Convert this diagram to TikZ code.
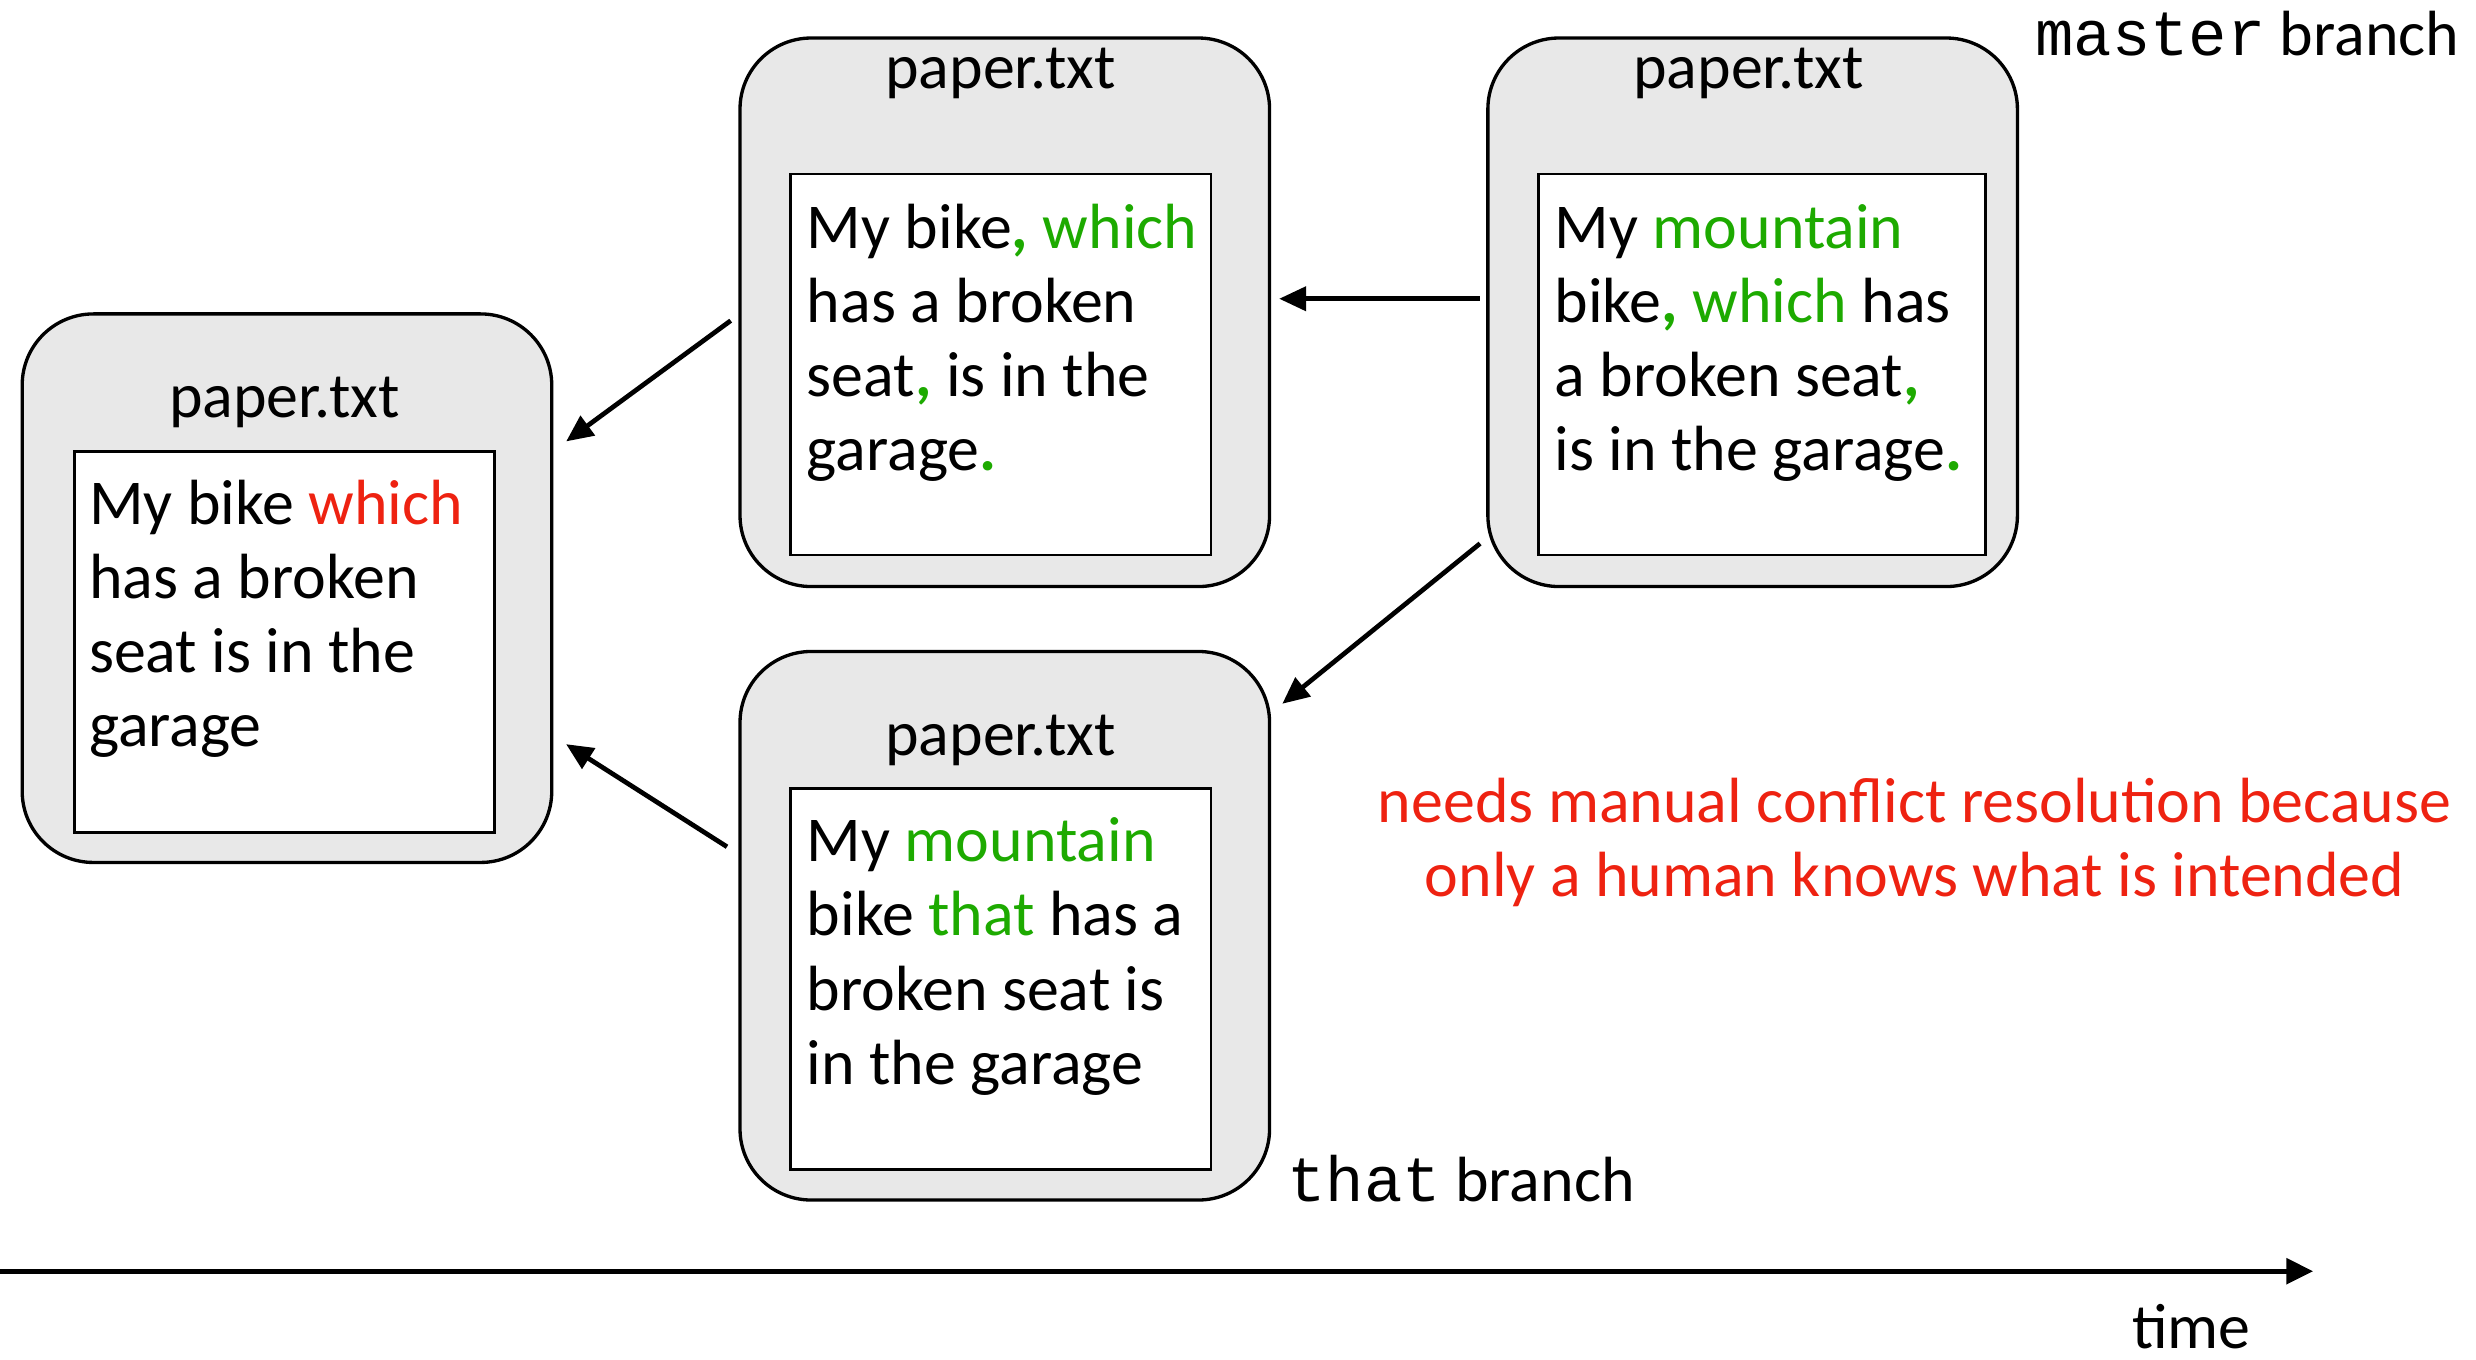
\documentclass[tikz,border=0pt]{standalone}
\usepackage{fontspec}
\setmainfont{Carlito}
\setmonofont{Liberation Mono}
\usetikzlibrary{calc,arrows.meta}
\definecolor{boxgray}{HTML}{E8E8E8}
\definecolor{mygreen}{HTML}{1DAA00}
\definecolor{myred}{HTML}{EE2211}
\newcommand{\G}[1]{\textcolor{mygreen}{#1}}
\newcommand{\GP}[1]{\textcolor{mygreen}{\textbf{#1}}}
\newcommand{\R}[1]{\textcolor{myred}{#1}}
\begin{document}
\begin{tikzpicture}[x=0.02cm,y=-0.02cm,
  outerbox/.style={draw, line width=1.2pt, fill=boxgray, rounded corners=0.9cm, minimum width=6.7cm, minimum height=6.94cm, inner sep=0},
  innerbox/.style={draw, line width=1pt, fill=white, inner sep=0, minimum height=4.82cm},
  titletext/.style={anchor=base, inner sep=0, font=\fontsize{23}{27}\selectfont},
  bodytext/.style={anchor=north west, inner sep=0, align=left, font=\fontsize{23}{26.65}\selectfont},
  arr/.style={-{Triangle[length=0.34cm,width=0.3cm]}, line width=1.7pt},
  lbl/.style={inner sep=0, font=\fontsize{23}{26.65}\selectfont}]
\useasboundingbox (0,0) rectangle (1566,860);
% boxes
\node[outerbox] (A) at (181.5,372) {};
\node[innerbox, minimum width=5.32cm] (Ai) at (180,406) {};
\node[titletext] (At) at (180,264) {paper.txt};
\node[bodytext] (Ab) at (56,303) {My bike \R{which}\\has a broken\\seat is in the\\garage};

\node[outerbox] (B) at (635.5,197.5) {};
\node[innerbox, minimum width=5.32cm] (Bi) at (633,230.5) {};
\node[titletext] (Bt) at (633,56) {paper.txt};
\node[bodytext] (Bb) at (510,129) {My bike\GP{,} \G{which}\\has a broken\\seat\GP{,} is in the\\garage\GP{.}};

\node[outerbox] (C) at (1108.5,197.5) {};
\node[innerbox, minimum width=5.66cm] (Ci) at (1114.5,230.5) {};
\node[titletext] (Ct) at (1106,56) {paper.txt};
\node[bodytext] (Cb) at (983,129) {My \G{mountain}\\bike\GP{,} \G{which} has\\a broken seat\GP{,}\\is in the garage\GP{.}};

\node[outerbox] (D) at (635.5,585.5) {};
\node[innerbox, minimum width=5.32cm] (Di) at (633,619) {};
\node[titletext] (Dt) at (633,478) {paper.txt};
\node[bodytext] (Db) at (510,517) {My \G{mountain}\\bike \G{that} has a\\broken seat is\\in the garage};

% arrows
\draw[arr, shorten <=0.08cm, shorten >=0.1cm] ($(C.north west)!0.4755!(C.south west)$) -- ($(B.north east)!0.4755!(B.south east)$);
\draw[arr, shorten <=0.12cm, shorten >=0.2cm] ($(B.north west)!0.505!(B.south west)$) -- ($(A.north east)!0.251!(A.south east)$);
\draw[arr, shorten <=0.1cm, shorten >=0.18cm] ($(C.north west)!0.910!(C.south west)$) -- ($(D.north east)!0.114!(D.south east)$);
\draw[arr, shorten <=0.17cm, shorten >=0.19cm] ($(D.north west)!0.370!(D.south west)$) -- ($(A.north east)!0.768!(A.south east)$);

% labels
\node[lbl, anchor=base west] (mb) at (1287,35) {\texttt{master} branch};
\node[lbl, anchor=base west] (tb) at (814,760) {\texttt{that} branch};
\node[lbl, align=center, text=myred] (note) at (1211,533) {needs manual conflict resolution because\\only a human knows what is intended};

% time axis
\coordinate (t0) at (0,804);
\coordinate (t1) at (1463,804);
\draw[line width=1.8pt, -{Triangle[length=0.34cm,width=0.32cm]}] (t0) -- (t1);
\node[lbl, anchor=base] (time) at (1386,853) {time};
\end{tikzpicture}
\end{document}
